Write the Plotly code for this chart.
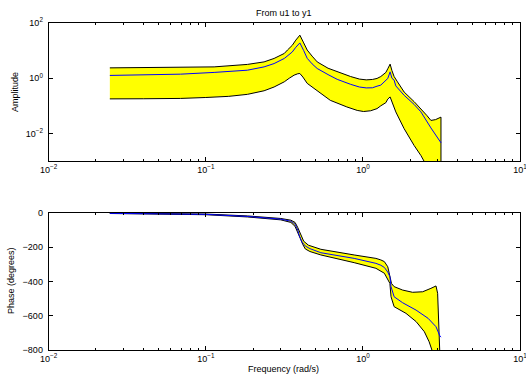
import plotly.graph_objects as go

# ---------------- data ----------------
# Amplitude, upper bound
w_amp_up = [0.0245, 0.04, 0.069, 0.113, 0.184, 0.235, 0.272, 0.316, 0.331, 0.355, 0.374, 0.397,
            0.42, 0.442, 0.475, 0.512, 0.6, 0.686, 0.835, 0.95, 1.05, 1.15, 1.23, 1.30, 1.40,
            1.44, 1.49, 1.53, 1.58, 1.65, 1.83, 2.12, 2.34, 2.55, 2.71, 2.90, 3.14]
amp_up = [2.37, 2.40, 2.48, 2.57, 3.16, 3.9, 5.2, 7.9, 10.5, 15.5, 24.0, 36.3,
          19.0, 10.5, 6.3, 3.89, 2.3, 1.70, 1.15, 0.93, 0.87, 0.90, 0.98, 1.15, 1.62,
          2.2, 3.24, 1.90, 1.15, 0.78, 0.316, 0.141, 0.0794, 0.0450, 0.0295, 0.0316, 0.0389]

# Amplitude, lower bound
w_amp_lo = [0.0245, 0.04, 0.069, 0.1, 0.14, 0.184, 0.235, 0.272, 0.316, 0.340, 0.365, 0.385, 0.397,
            0.415, 0.442, 0.512, 0.62, 0.79, 0.92, 1.01, 1.12, 1.23, 1.30, 1.40, 1.44, 1.49,
            1.55, 1.62, 1.83, 2.12, 2.34, 2.44, 2.80, 3.14]
amp_lo = [0.178, 0.180, 0.185, 0.20, 0.22, 0.26, 0.35, 0.48, 0.74, 1.0, 1.29, 1.45, 1.48,
          1.10, 0.65, 0.355, 0.158, 0.091, 0.068, 0.062, 0.066, 0.079, 0.100, 0.130, 0.175, 0.209,
          0.120, 0.060, 0.0148, 0.00363, 0.00158, 0.00100, 0.00025, 0.0001]

# Amplitude, nominal
w_amp_nom = [0.0245, 0.04, 0.069, 0.113, 0.184, 0.235, 0.272, 0.316, 0.331, 0.355, 0.374, 0.397,
             0.42, 0.442, 0.475, 0.512, 0.6, 0.686, 0.835, 0.95, 1.05, 1.15, 1.23, 1.30, 1.44,
             1.49, 1.53, 1.58, 1.62, 1.83, 2.12, 2.34, 2.71, 2.95, 3.14]
amp_nom = [1.26, 1.30, 1.40, 1.62, 1.95, 2.57, 3.39, 5.2, 6.3, 8.9, 13.2, 19.0,
           10.0, 5.25, 3.3, 2.24, 1.35, 0.91, 0.60, 0.48, 0.445, 0.45, 0.513, 0.562, 0.977,
           1.70, 1.0, 0.85, 0.525, 0.240, 0.112, 0.0603, 0.0158, 0.0079, 0.00457]

# Phase, upper bound (degrees)
w_ph_up = [0.0245, 0.1, 0.184, 0.30, 0.348, 0.37, 0.385, 0.40, 0.42, 0.45, 0.54, 0.88,
           1.12, 1.21, 1.30, 1.37, 1.44, 1.49, 1.52, 1.58, 1.79, 2.07, 2.40, 2.71, 2.92,
           2.99, 3.03, 3.09, 3.14]
ph_up = [-1, -6, -17, -32, -42, -55, -85, -125, -165, -188, -212, -245,
         -259, -265, -274, -284, -314, -372, -411, -430, -450, -463, -460, -440, -426,
         -469, -567, -683, -800]

# Phase, lower bound (degrees)
w_ph_lo = [0.0245, 0.1, 0.184, 0.30, 0.348, 0.37, 0.385, 0.40, 0.415, 0.43, 0.46, 0.54,
           0.88, 1.12, 1.21, 1.37, 1.485, 1.51, 1.58, 1.88, 2.18, 2.46, 2.64, 2.75, 2.90, 3.14]
ph_lo = [-3, -10, -23, -40, -55, -78, -115, -150, -185, -210, -225, -245,
         -290, -314, -323, -352, -411, -489, -547, -586, -634, -693, -752, -800, -900, -1000]

# Phase, nominal (degrees)
w_ph_nom = [0.0245, 0.05, 0.1, 0.184, 0.25, 0.30, 0.348, 0.37, 0.385, 0.395, 0.41, 0.43,
            0.46, 0.54, 0.88, 1.12, 1.21, 1.30, 1.37, 1.44, 1.485, 1.51, 1.58, 1.79,
            2.18, 2.60, 2.92, 3.09, 3.14]
ph_nom = [-2, -4, -8, -20, -28, -36, -48, -65, -100, -135, -170, -193,
          -208, -232, -265, -284, -294, -305, -318, -345, -372, -430, -489, -524,
          -567, -615, -664, -718, -725]

x_tickvals = [0.01, 0.1, 1, 10]
x_ticktext = ["10<sup>\u22122</sup>", "10<sup>\u22121</sup>", "10<sup>0</sup>", "10<sup>1</sup>"]
x_minor = [m * d for d in (0.01, 0.1, 1) for m in range(2, 10)]
amp_tickvals = [0.01, 1, 100]
amp_ticktext = ["10<sup>\u22122</sup>", "10<sup>0</sup>", "10<sup>2</sup>"]
ph_tickvals = [0, -200, -400, -600, -800]
ph_ticktext = ["0", "\u2212200", "\u2212400", "\u2212600", "\u2212800"]

title_text = "From u1 to y1"
amp_label = "Amplitude"
ph_label = "Phase (degrees)"
freq_label = "Frequency (rad/s)"

# ---------------- figure ----------------
W, H = 526, 376
FONT = "Liberation Sans, Arial, Helvetica, sans-serif"

fig = go.Figure()

# amplitude band
fig.add_trace(go.Scatter(
    x=w_amp_up + w_amp_lo[::-1], y=amp_up + amp_lo[::-1],
    fill="toself", fillcolor="#ffff00", mode="lines",
    line=dict(color="black", width=1), xaxis="x", yaxis="y", hoverinfo="skip"))
fig.add_trace(go.Scatter(
    x=w_amp_nom, y=amp_nom, mode="lines",
    line=dict(color="#0000ff", width=1), xaxis="x", yaxis="y"))

# phase band
fig.add_trace(go.Scatter(
    x=w_ph_up + w_ph_lo[::-1], y=ph_up + ph_lo[::-1],
    fill="toself", fillcolor="#ffff00", mode="lines",
    line=dict(color="black", width=1), xaxis="x2", yaxis="y2", hoverinfo="skip"))
fig.add_trace(go.Scatter(
    x=w_ph_nom, y=ph_nom, mode="lines",
    line=dict(color="#0000ff", width=1), xaxis="x2", yaxis="y2"))

def px_x(p):
    return p / W

def px_y(p):
    return 1 - p / H

xdom = [px_x(48.7), px_x(520)]
common_axis = dict(showline=True, linecolor="black", linewidth=1, mirror="ticks",
                   ticks="inside", ticklen=4, tickcolor="black", tickwidth=1,
                   showgrid=False, zeroline=False, automargin=False,
                   ticklabeloverflow="allow",
                   tickfont=dict(family=FONT, size=9, color="black"))

xaxis_common = dict(common_axis, type="log", range=[-2, 1], domain=xdom,
                    tickmode="array", tickvals=x_tickvals, ticktext=x_ticktext,
                    minor=dict(tickmode="array", tickvals=x_minor, ticks="inside",
                               ticklen=2, tickcolor="black", showgrid=False))

fig.update_layout(
    width=W, height=H, margin=dict(l=0, r=0, t=0, b=0, pad=0), autosize=False,
    paper_bgcolor="white", plot_bgcolor="white", showlegend=False,
    font=dict(family=FONT, size=9, color="black"),
    xaxis=dict(xaxis_common, anchor="y"),
    yaxis=dict(common_axis, type="log", range=[-3, 2],
               domain=[px_y(161), px_y(23)], anchor="x",
               tickmode="array", tickvals=amp_tickvals, ticktext=amp_ticktext,
               ticklabelstandoff=3),
    xaxis2=dict(xaxis_common, anchor="y2"),
    yaxis2=dict(common_axis, range=[-800, 0],
                domain=[px_y(350), px_y(213)], anchor="x2",
                tickmode="array", tickvals=ph_tickvals, ticktext=ph_ticktext,
                ticklabelstandoff=3),
    annotations=[
        dict(text=title_text, x=px_x(284), y=px_y(13), xref="paper", yref="paper",
             showarrow=False, xanchor="center", yanchor="middle",
             font=dict(family=FONT, size=9)),
        dict(text=amp_label, x=px_x(15), y=px_y(92), xref="paper", yref="paper",
             showarrow=False, xanchor="center", yanchor="middle", textangle=-90,
             font=dict(family=FONT, size=9)),
        dict(text=ph_label, x=px_x(11), y=px_y(281), xref="paper", yref="paper",
             showarrow=False, xanchor="center", yanchor="middle", textangle=-90,
             font=dict(family=FONT, size=9)),
        dict(text=freq_label, x=px_x(283), y=px_y(369), xref="paper", yref="paper",
             showarrow=False, xanchor="center", yanchor="middle",
             font=dict(family=FONT, size=9)),
    ],
)

fig.write_html("out.html", config={"displayModeBar": False, "responsive": False},
               post_script="document.body.style.margin='0';document.body.style.overflow='hidden';")
